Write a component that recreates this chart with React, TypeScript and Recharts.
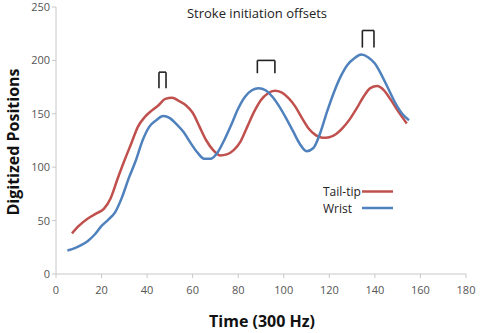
import React from 'react';
import { LineChart, Line, XAxis, YAxis, ReferenceLine, Customized } from 'recharts';

// Tail-tip trace (time in 300 Hz frames)
const tailTipTime = [7, 10, 14, 18, 21, 24, 27, 30, 33, 36, 39, 42, 45, 48, 51, 54, 57, 60, 63, 66, 69, 72, 75, 78, 81, 84, 87, 90, 93, 96, 99, 102, 105, 108, 111, 114, 117, 120, 123, 126, 129, 132, 135, 138, 141, 144, 147, 150, 154];
const tailTipPos = [38, 45, 52, 57, 61, 71, 89, 106, 122, 138, 147, 153, 158, 164, 165, 162, 158, 151, 138, 125, 116, 111, 112, 116, 124, 138, 152, 163, 169, 171.5, 170, 165, 157, 146, 136, 130, 127.5, 128, 131, 137, 145, 155, 166, 174, 176, 172, 163, 153, 141];

// Wrist trace
const wristTime = [5, 8, 11, 14, 17, 20, 23, 26, 29, 32, 35, 38, 41, 44, 47, 50, 53, 56, 59, 62, 65, 68, 71, 74, 77, 80, 83, 86, 89, 92, 95, 98, 101, 104, 107, 110, 113, 116, 119, 122, 125, 128, 131, 134, 137, 140, 143, 146, 149, 152, 155];
const wristPos = [22, 24, 27, 31, 37, 45, 51, 58, 72, 90, 106, 125, 138, 144, 148, 146, 140, 133, 123, 114, 108, 108, 114, 126, 140, 155, 166, 172, 174, 172, 166, 157, 146, 134, 122, 115, 118, 132, 152, 170, 185, 196, 202, 205.5, 203, 197, 186, 173, 160, 150, 144];

// Stroke initiation offset brackets
const bracketStart = [45.2, 88.4, 134.5];
const bracketEnd = [48.3, 96.1, 139.6];
const bracketBase = [174, 188, 212];
const bracketTop = [189, 200, 228];

const xTicks = [0, 20, 40, 60, 80, 100, 120, 140, 160, 180];
const yTicks = [0, 50, 100, 150, 200, 250];

const tailTipData = tailTipTime.map((t, i) => ({ t, v: tailTipPos[i] }));
const wristData = wristTime.map((t, i) => ({ t, v: wristPos[i] }));

const RED = '#c0504d';
const BLUE = '#4f81bd';
const FONT = '"Open Sans", "Liberation Sans", sans-serif';

const Annotations = () => (
  <g>
    <text x={257} y={18} textAnchor="middle" fontFamily={FONT} fontSize={13} fill="#222">
      Stroke initiation offsets
    </text>
    <text
      x={0}
      y={0}
      transform="translate(19,142) rotate(-90)"
      textAnchor="middle"
      fontFamily={FONT}
      fontSize={16}
      fontWeight="bold"
      fill="#111"
    >
      Digitized Positions
    </text>
    <text x={262} y={327} textAnchor="middle" fontFamily={FONT} fontSize={16} fontWeight="bold" fill="#111">
      Time (300 Hz)
    </text>
    <g fontFamily={FONT} fontSize={12} fill="#222">
      <text x={323} y={196}>Tail-tip</text>
      <line x1={362} x2={393} y1={191.5} y2={191.5} stroke={RED} strokeWidth={2.5} />
      <text x={323} y={213}>Wrist</text>
      <line x1={362} x2={393} y1={208} y2={208} stroke={BLUE} strokeWidth={2.5} />
    </g>
  </g>
);

export default function App() {
  const bracketSegments = bracketStart.flatMap((s, i) => [
    [{ x: s, y: bracketBase[i] }, { x: s, y: bracketTop[i] }],
    [{ x: s, y: bracketTop[i] }, { x: bracketEnd[i], y: bracketTop[i] }],
    [{ x: bracketEnd[i], y: bracketTop[i] }, { x: bracketEnd[i], y: bracketBase[i] }],
  ]);
  return (
    <div style={{ position: 'absolute', left: 0, top: 0, width: 486, height: 333, background: '#fff' }}>
      <LineChart width={486} height={333} margin={{ top: 7, right: 20, left: 0, bottom: 29 }}>
        <XAxis
          type="number"
          dataKey="t"
          domain={[0, 180]}
          ticks={xTicks}
          allowDataOverflow
          stroke="#c8c8c8"
          tickSize={4}
          tickMargin={8}
          tick={{ fill: '#555', fontSize: 11, fontFamily: FONT }}
          height={30}
        />
        <YAxis
          type="number"
          dataKey="v"
          domain={[0, 250]}
          ticks={yTicks}
          stroke="#c8c8c8"
          tickSize={4}
          tick={{ fill: '#555', fontSize: 11, fontFamily: FONT }}
          width={56}
        />
        <Line
          data={tailTipData}
          dataKey="v"
          type="monotone"
          stroke={RED}
          strokeWidth={2.5}
          dot={false}
          isAnimationActive={false}
        />
        <Line
          data={wristData}
          dataKey="v"
          type="monotone"
          stroke={BLUE}
          strokeWidth={2.5}
          dot={false}
          isAnimationActive={false}
        />
        {bracketSegments.map((seg, i) => (
          <ReferenceLine key={i} segment={seg} stroke="#222" strokeWidth={1.6} ifOverflow="extendDomain" />
        ))}
        <Customized component={Annotations} />
      </LineChart>
    </div>
  );
}
